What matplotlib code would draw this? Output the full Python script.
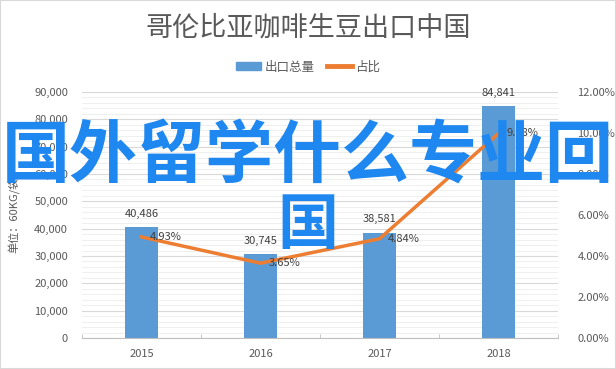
import matplotlib.pyplot as plt
import matplotlib.ticker as mticker
from matplotlib.lines import Line2D
from matplotlib.patches import Patch

plt.rcParams['font.family'] = ['Noto Sans CJK SC', 'DejaVu Sans']

years = ['2015', '2016', '2017', '2018']
volume = [40486, 30745, 38581, 84841]
share = [4.93, 3.65, 4.84, 9.98]
vol_labels = ['40,486', '30,745', '38,581', '84,841']
share_labels = ['4.93%', '3.65%', '4.84%', '9.98%']

bar_c = '#5B9BD5'
line_c = '#ED7D31'
txt_c = '#595959'

fig = plt.figure(figsize=(6.16, 3.69), dpi=100)
ax = fig.add_axes([82/616, 31/369, 476/616, 246/369])
ax2 = ax.twinx()

x = range(len(years))
ax.bar(x, volume, width=0.27, color=bar_c, zorder=2)
ax.set_xlim(-0.5, 3.5)
ax.set_ylim(0, 90000)
ax.yaxis.set_major_locator(mticker.MultipleLocator(10000))
ax.yaxis.set_minor_locator(mticker.MultipleLocator(2000))
ax.yaxis.set_major_formatter(mticker.FuncFormatter(lambda v, p: f'{int(v):,}'))
ax.grid(axis='y', which='major', color='#D9D9D9', lw=0.8, zorder=0)
ax.grid(axis='y', which='minor', color='#EDEDED', lw=0.6, zorder=0)
ax.set_axisbelow(True)
for s in ['top', 'left', 'right']:
    ax.spines[s].set_visible(False)
ax.spines['bottom'].set_color('#BFBFBF')
ax.set_xticks(list(x))
ax.set_xticklabels(years)
ax.set_xticks([-0.5, 0.5, 1.5, 2.5, 3.5], minor=True)
ax.tick_params(axis='x', which='major', length=0, pad=8, labelsize=8, colors=txt_c)
ax.tick_params(axis='x', which='minor', length=3, color='#BFBFBF', direction='in')
ax.tick_params(axis='y', which='both', length=0, labelsize=8, colors=txt_c, pad=10)
ax.set_ylabel('单位：60KG/袋', fontsize=8, color=txt_c, labelpad=10)

for i, v in enumerate(volume):
    ax.annotate(vol_labels[i], (i, v), xytext=(0, 6), textcoords='offset points',
                ha='center', va='bottom', fontsize=8, color='#404040')

ax2.plot(list(x), share, color=line_c, lw=2.5, zorder=3)
ax2.set_ylim(0, 12)
ax2.yaxis.set_major_locator(mticker.MultipleLocator(2))
ax2.yaxis.set_major_formatter(mticker.FuncFormatter(lambda v, p: f'{v:.2f}%'))
ax2.tick_params(axis='y', length=0, labelsize=8, colors=txt_c, pad=14)
for s in ['top', 'left', 'right', 'bottom']:
    ax2.spines[s].set_visible(False)
for i, v in enumerate(share):
    ax2.annotate(share_labels[i], (i, v), xytext=(6, 0), textcoords='offset points',
                 ha='left', va='center', fontsize=8, color='#404040')

fig.text(0.5, 1 - 28/369, '哥伦比亚咖啡生豆出口中国', ha='center', va='center',
         fontsize=19.5, color=txt_c)
handles = [Patch(color=bar_c), Line2D([0], [0], color=line_c, lw=3.5)]
fig.legend(handles, ['出口总量', '占比'], loc='center', bbox_to_anchor=(0.5, 1 - 67/369),
           ncol=2, frameon=False, fontsize=9, labelcolor=txt_c,
           handlelength=2.0, handleheight=0.6, columnspacing=1.0, handletextpad=0.3)

# watermark overlay
fig.text(0.5, 1 - 158/369, '国外留学什么专业回', ha='center', va='center',
         fontsize=49, fontweight='bold', color='#1E88F0', zorder=10)
fig.text(308/616, 1 - 226/369, '国', ha='center', va='center',
         fontsize=44, fontweight='bold', color='#1E88F0', zorder=10)

fig.patches.append(plt.Rectangle((0, 0), 1, 1, transform=fig.transFigure,
                                 fill=False, edgecolor='#D9D9D9', lw=1.5))
fig.savefig('out.png', dpi=100)
